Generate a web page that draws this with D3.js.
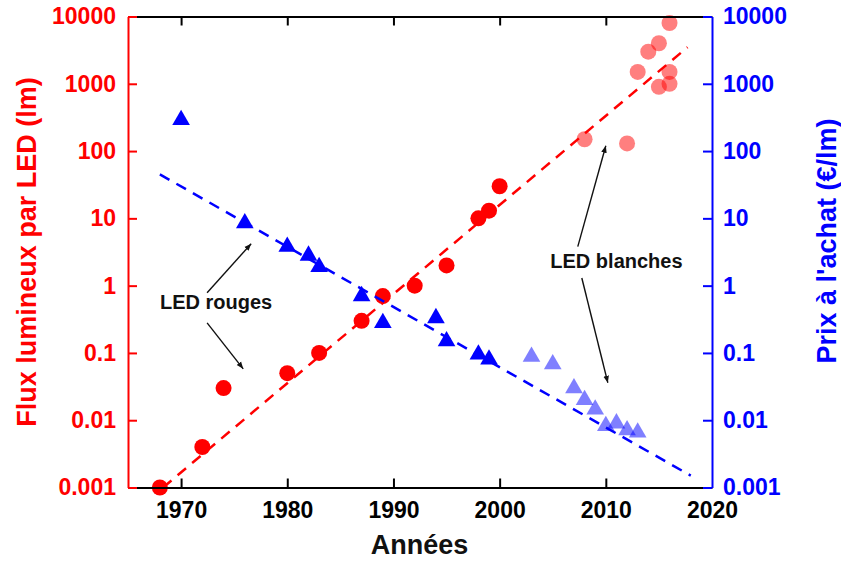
<!DOCTYPE html>
<html>
<head>
<meta charset="utf-8">
<script src="https://cdn.jsdelivr.net/npm/d3@7"></script>
<style>
  html, body { margin: 0; padding: 0; background: #fff; }
  svg { display: block; font-family: "Liberation Sans", Arial, sans-serif; font-weight: bold; }
</style>
</head>
<body>
<svg id="chart" width="841" height="561"></svg>
<script>
// ---------- DATA ----------
// Luminous flux per LED (lm) — red LEDs (solid red circles)
const fluxRedYears  = [1968, 1972, 1974, 1980, 1983, 1987, 1989, 1992, 1995, 1998, 1999, 2000];
const fluxRedValues = [0.001, 0.004, 0.03, 0.05, 0.1, 0.3, 0.7, 1, 2, 10, 13, 30];
// Luminous flux per LED (lm) — white LEDs (pale red circles)
const fluxWhiteYears  = [2008, 2012, 2013, 2014, 2015, 2016, 2015, 2016, 2016];
const fluxWhiteValues = [150, 130, 1500, 3000, 4000, 8000, 900, 1000, 1500];
// Price (€/lm) — red LEDs (solid blue triangles)
const priceRedYears  = [1970, 1976, 1980, 1982, 1983, 1987, 1989, 1994, 1995, 1998, 1999];
const priceRedValues = [290, 8.5, 3.8, 2.8, 1.9, 0.7, 0.28, 0.33, 0.15, 0.095, 0.08];
// Price (€/lm) — white LEDs (pale blue triangles)
const priceWhiteYears  = [2003, 2005, 2007, 2008, 2009, 2010, 2011, 2012, 2013];
const priceWhiteValues = [0.088, 0.068, 0.03, 0.02, 0.0145, 0.0082, 0.009, 0.0071, 0.0066];
// Trend lines (endpoints in data units)
const fluxTrendYears  = [1968.3, 2017.7];
const fluxTrendValues = [0.001, 3500];
const priceTrendYears  = [1968, 2018];
const priceTrendValues = [45, 0.0015];
// Axes
const xTicks = [1970, 1980, 1990, 2000, 2010, 2020];
const yTicks = [0.001, 0.01, 0.1, 1, 10, 100, 1000, 10000];
const yTickLabels = ["0.001", "0.01", "0.1", "1", "10", "100", "1000", "10000"];
const xTitle = "Années";
const yLeftTitle = "Flux lumineux par LED (lm)";
const yRightTitle = "Prix à l'achat  (€/lm)";
// Annotations (data units)
const annotTexts = ["LED rouges", "LED blanches"];
const annotTextPos = [[1973.3, 0.575], [2011.0, 2.35]];
const arrowFrom = [[1972.45, 0.785], [1972.45, 0.28], [2007.36, 3.8], [2007.74, 1.3]];
const arrowTo   = [[1976.6, 4.2], [1975.85, 0.058], [2010.0, 120], [2010.19, 0.036]];

// ---------- LAYOUT ----------
const svg = d3.select("#chart");
const L = 128, R = 712, T = 16.5, B = 487.5;
const x = d3.scaleLinear().domain([1965, 2020]).range([L, R]);
const y = d3.scaleLog().domain([0.001, 10000]).range([B, T]);
const yR = d3.scaleLog().domain([0.001, 10000]).range([B, T]);
const RED = "#ff0000", BLUE = "#0000ff";

const defs = svg.append("defs");
defs.append("marker").attr("id", "arr").attr("viewBox", "0 0 10 10")
  .attr("refX", 10).attr("refY", 5).attr("markerWidth", 7).attr("markerHeight", 7)
  .attr("markerUnits", "userSpaceOnUse").attr("orient", "auto")
  .append("path").attr("d", "M0,1 L10,5 L0,9 Z").attr("fill", "#111");

// ---------- MARKERS ----------
const tri = d3.symbol().type(d3.symbolTriangle).size(135);
function triangles(years, vals, op) {
  svg.append("g").selectAll("path").data(years).join("path")
    .attr("d", tri)
    .attr("transform", (d, i) => `translate(${x(d)},${yR(vals[i])})`)
    .attr("fill", BLUE).attr("fill-opacity", op);
}
function circles(years, vals, op) {
  svg.append("g").selectAll("circle").data(years).join("circle")
    .attr("cx", d => x(d)).attr("cy", (d, i) => y(vals[i])).attr("r", 8)
    .attr("fill", RED).attr("fill-opacity", op);
}
triangles(priceRedYears, priceRedValues, 1);
triangles(priceWhiteYears, priceWhiteValues, 0.5);
circles(fluxRedYears, fluxRedValues, 1);
circles(fluxWhiteYears, fluxWhiteValues, 0.5);

// ---------- TREND LINES ----------
const lineL = d3.line().x(d => x(d[0])).y(d => y(d[1]));
const lineR = d3.line().x(d => x(d[0])).y(d => yR(d[1]));
svg.append("path").attr("d", lineL(fluxTrendYears.map((d, i) => [d, fluxTrendValues[i]])))
  .attr("fill", "none").attr("stroke", RED).attr("stroke-width", 2.5).attr("stroke-dasharray", "11,8");
svg.append("path").attr("d", lineR(priceTrendYears.map((d, i) => [d, priceTrendValues[i]])))
  .attr("fill", "none").attr("stroke", BLUE).attr("stroke-width", 2.5).attr("stroke-dasharray", "11,8");

// ---------- AXES ----------
function styleAxis(g, color, fs) {
  g.select(".domain").attr("stroke", color).attr("stroke-width", 2);
  g.selectAll(".tick line").attr("stroke", color).attr("stroke-width", 2);
  g.selectAll(".tick text").attr("fill", color).style("font-size", fs + "px")
    .style("font-family", '"Liberation Sans", Arial, sans-serif').style("font-weight", "bold");
}
const gTop = svg.append("g").attr("transform", `translate(0,${T})`)
  .call(d3.axisTop(x).tickValues(xTicks.slice(0, -1)).tickSize(-9).tickSizeOuter(0).tickFormat(""));
styleAxis(gTop, "#000", 23);
const gBot = svg.append("g").attr("transform", `translate(0,${B})`)
  .call(d3.axisBottom(x).tickValues(xTicks).tickSize(-9).tickSizeOuter(0).tickPadding(14).tickFormat(d3.format("d")));
styleAxis(gBot, "#000", 23);
gBot.selectAll(".tick line").filter(d => d === 2020).remove();
const gLeft = svg.append("g").attr("transform", `translate(${L},0)`)
  .call(d3.axisLeft(y).tickValues(yTicks).tickSize(-9).tickSizeOuter(0).tickPadding(12)
    .tickFormat((d, i) => yTickLabels[i]));
styleAxis(gLeft, RED, 23);
const gRight = svg.append("g").attr("transform", `translate(${R},0)`)
  .call(d3.axisRight(yR).tickValues(yTicks).tickSize(-9).tickSizeOuter(0).tickPadding(11)
    .tickFormat((d, i) => yTickLabels[i]));
styleAxis(gRight, BLUE, 23);

// ---------- TITLES ----------
svg.append("text").attr("x", 419.5).attr("y", 554).attr("text-anchor", "middle")
  .style("font-size", "27px").attr("fill", "#111").text(xTitle);
svg.append("text").attr("transform", "translate(36,252) rotate(-90)").attr("text-anchor", "middle")
  .style("font-size", "27px").attr("fill", RED).text(yLeftTitle);
svg.append("text").attr("transform", "translate(836,241) rotate(-90)").attr("text-anchor", "middle")
  .style("font-size", "27px").attr("fill", BLUE).text(yRightTitle);

// ---------- ANNOTATIONS ----------
svg.append("g").selectAll("text").data(annotTexts).join("text")
  .attr("x", (d, i) => x(annotTextPos[i][0])).attr("y", (d, i) => y(annotTextPos[i][1]))
  .attr("dy", "0.36em").attr("text-anchor", "middle")
  .style("font-size", "20px").attr("fill", "#111").text(d => d);
svg.append("g").selectAll("line").data(arrowFrom).join("line")
  .attr("x1", d => x(d[0])).attr("y1", d => y(d[1]))
  .attr("x2", (d, i) => x(arrowTo[i][0])).attr("y2", (d, i) => y(arrowTo[i][1]))
  .attr("stroke", "#111").attr("stroke-width", 1.4).attr("marker-end", "url(#arr)");
</script>
</body>
</html>
